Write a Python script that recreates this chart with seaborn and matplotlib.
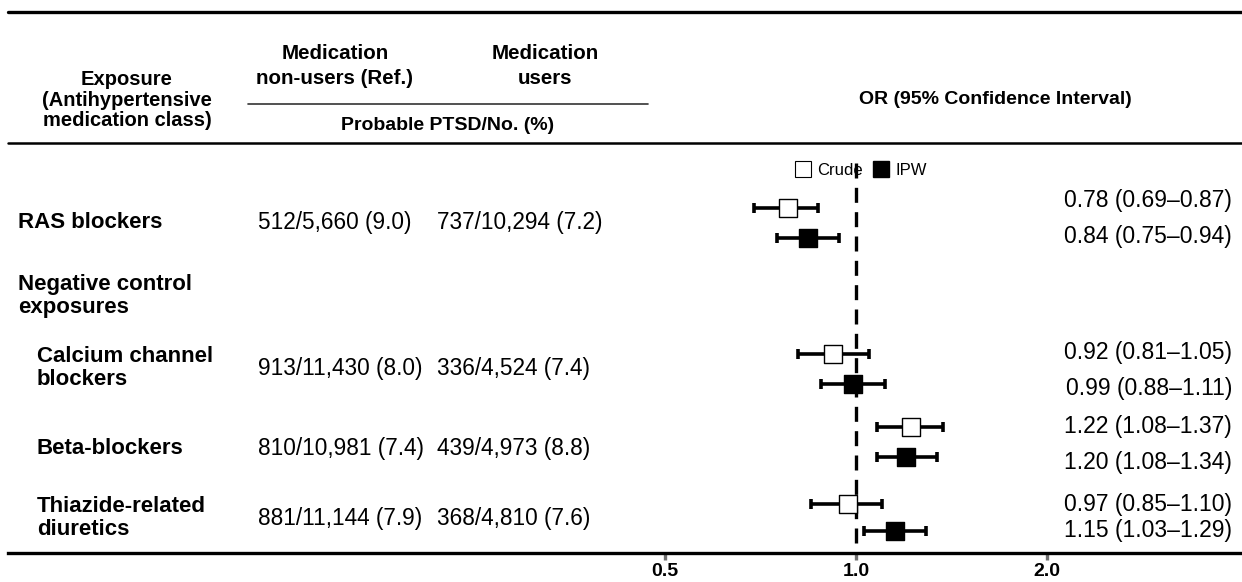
import numpy as np
import pandas as pd
import matplotlib
matplotlib.use("Agg")
import matplotlib.pyplot as plt
from matplotlib.lines import Line2D
import seaborn as sns

# ---------------- data ----------------
exposures = ["RAS blockers", "Calcium channel\nblockers", "Beta-blockers", "Thiazide-related\ndiuretics"]
nonusers = ["512/5,660 (9.0)", "913/11,430 (8.0)", "810/10,981 (7.4)", "881/11,144 (7.9)"]
users = ["737/10,294 (7.2)", "336/4,524 (7.4)", "439/4,973 (8.8)", "368/4,810 (7.6)"]
crude_or = [0.78, 0.92, 1.22, 0.97]
crude_lo = [0.69, 0.81, 1.08, 0.85]
crude_hi = [0.87, 1.05, 1.37, 1.10]
ipw_or = [0.84, 0.99, 1.20, 1.15]
ipw_lo = [0.75, 0.88, 1.08, 1.03]
ipw_hi = [0.94, 1.11, 1.34, 1.29]
tick_values = [0.5, 1.0, 2.0]
tick_labels = ["0.5", "1.0", "2.0"]

# ---------------- layout (pixel rows) ----------------
W, H = 1242, 582
row_text_y = [223, 368, 448, 518]
crude_y = [208, 354, 427, 504]
ipw_y = [238, 384, 457, 531]
or_text_crude_y = [201, 353, 427, 504]
or_text_ipw_y = [236, 388, 462, 530]
indent = [18, 37, 37, 37]

sns.set_theme(style="white")
plt.rcParams["font.family"] = ["Liberation Sans", "DejaVu Sans"]
plt.rcParams["text.color"] = "black"
plt.rcParams["xtick.labelcolor"] = "black"

fig = plt.figure(figsize=(W / 100, H / 100), dpi=100)

# table axes in pixel coordinates
tab = fig.add_axes([0, 0, 1, 1])
tab.set_xlim(0, W)
tab.set_ylim(H, 0)
tab.axis("off")

# forest axes, log2 scale: 1.0 at x=856, 191 px per doubling
x0, x1, y_top, y_bot = 8, 1242, 12, 553
fx = 856
ppd = 191
ax = fig.add_axes([x0 / W, (H - y_bot) / H, (x1 - x0) / W, (y_bot - y_top) / H])
ax.patch.set_alpha(0)
ax.set_xscale("log", base=2)
ax.set_xlim(2 ** ((x0 - fx) / ppd), 2 ** ((x1 - fx) / ppd))
ax.set_ylim(y_bot, y_top)

rows = []
for i in range(len(exposures)):
    rows.append(dict(est="Crude", OR=crude_or[i], lo=crude_lo[i], hi=crude_hi[i], y=crude_y[i]))
    rows.append(dict(est="IPW", OR=ipw_or[i], lo=ipw_lo[i], hi=ipw_hi[i], y=ipw_y[i]))
df = pd.DataFrame(rows)

# reference line
ax.vlines(1.0, 163, y_bot, colors="black", linewidth=2.4, linestyles=(0, (4.5, 2.8)), zorder=1)

ax.errorbar(df["OR"], df["y"], xerr=[df["OR"] - df["lo"], df["hi"] - df["OR"]],
            fmt="none", ecolor="black", elinewidth=2.6, capsize=3.3, capthick=2.6, zorder=2)
sns.scatterplot(data=df[df.est == "Crude"], x="OR", y="y", marker="s", s=150, color="white",
                edgecolor="black", linewidth=1.0, ax=ax, legend=False, zorder=3)
sns.scatterplot(data=df[df.est == "IPW"], x="OR", y="y", marker="s", s=175, color="black",
                edgecolor="black", linewidth=1.0, ax=ax, legend=False, zorder=3)

for s in ["top", "left", "right"]:
    ax.spines[s].set_visible(False)
ax.spines["bottom"].set_linewidth(2.4)
ax.spines["bottom"].set_color("black")
ax.set_yticks([])
ax.set_xticks(tick_values)
ax.set_xticklabels(tick_labels, fontweight="bold", fontsize=14)
ax.minorticks_off()
ax.tick_params(axis="x", length=5, width=2.4, color="#707070", pad=2.5, bottom=True)
ax.set_xlabel("")
ax.set_ylabel("")

# legend
handles = [Line2D([], [], marker="s", linestyle="none", markersize=11, markerfacecolor="white",
                  markeredgecolor="black", markeredgewidth=0.8),
           Line2D([], [], marker="s", linestyle="none", markersize=11, markerfacecolor="black",
                  markeredgecolor="black")]
tab.legend(handles, ["Crude", "IPW"], ncol=2, frameon=False, fontsize=12,
           loc="center", bbox_to_anchor=(861 / W, 1 - 170 / H), handletextpad=0.35,
           columnspacing=0.6, handlelength=1.0, borderaxespad=0)

# horizontal rules
tab.plot([8, 1242], [12, 12], color="black", lw=2.4)
tab.plot([8, 1242], [143, 143], color="black", lw=1.8)
tab.plot([248, 648], [104, 104], color="#333333", lw=1.2)

# header
tab.text(127, 100, "Exposure\n(Antihypertensive\nmedication class)", ha="center", va="center",
         fontsize=14.5, fontweight="bold", linespacing=1.08)
tab.text(335, 66, "Medication\nnon-users (Ref.)", ha="center", va="center",
         fontsize=14.8, fontweight="bold", linespacing=1.35)
tab.text(545, 66, "Medication\nusers", ha="center", va="center",
         fontsize=14.8, fontweight="bold", linespacing=1.35)
tab.text(448, 126, "Probable PTSD/No. (%)", ha="center", va="center",
         fontsize=14, fontweight="bold")
tab.text(995, 100, "OR (95% Confidence Interval)", ha="center", va="center",
         fontsize=14, fontweight="bold")

# group header
tab.text(18, 296, "Negative control\nexposures", ha="left", va="center",
         fontsize=16, fontweight="bold", linespacing=1.15)

for i in range(len(exposures)):
    tab.text(indent[i], row_text_y[i], exposures[i], ha="left", va="center",
             fontsize=16, fontweight="bold", linespacing=1.15)
    tab.text(258, row_text_y[i], nonusers[i], ha="left", va="center", fontsize=16.3)
    tab.text(437, row_text_y[i], users[i], ha="left", va="center", fontsize=16.3)
    tab.text(1232, or_text_crude_y[i],
             f"{crude_or[i]:.2f} ({crude_lo[i]:.2f}\u2013{crude_hi[i]:.2f})",
             ha="right", va="center", fontsize=16.5)
    tab.text(1232, or_text_ipw_y[i],
             f"{ipw_or[i]:.2f} ({ipw_lo[i]:.2f}\u2013{ipw_hi[i]:.2f})",
             ha="right", va="center", fontsize=16.5)

fig.savefig("out.png", dpi=100)
